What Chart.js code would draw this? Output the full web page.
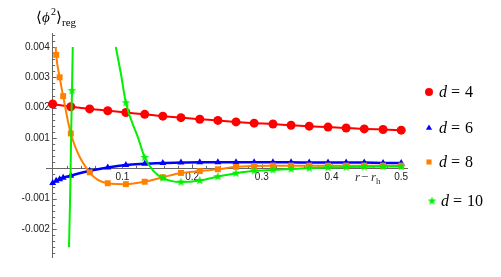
<!DOCTYPE html>
<html>
<head>
<meta charset="utf-8">
<script src="https://cdn.jsdelivr.net/npm/chart.js@4.4.1/dist/chart.umd.min.js"></script>
<style>
  html, body { margin: 0; padding: 0; background: #fff; }
  canvas { display: block; }
</style>
</head>
<body>
<canvas id="chart" width="501" height="277"></canvas>
<script>
// r - r_h sample grid and the extra samples near the horizon
const rGrid = [0, 0.026, 0.053, 0.079, 0.105, 0.132, 0.158, 0.184, 0.211, 0.237,
               0.263, 0.289, 0.316, 0.342, 0.368, 0.395, 0.421, 0.447, 0.474, 0.5];
const rNear = [0.005, 0.01, 0.015];

// d = 4
const d4R = rGrid;
const d4Phi = [0.00212, 0.00203, 0.00196, 0.0019, 0.00184, 0.00178, 0.00172, 0.00167, 0.00162, 0.00158,
               0.00153, 0.00149, 0.00146, 0.00142, 0.00139, 0.00136, 0.00133, 0.0013, 0.00128, 0.00126];

// d = 6
const d6R = [0].concat(rNear, rGrid.slice(1));
const d6Phi = [-0.00048, -0.00041, -0.00036, -0.00031, -0.00024, -0.00008, 0.00003, 0.00011, 0.00015, 0.00018,
               0.00019, 0.0002, 0.0002, 0.0002, 0.0002, 0.0002, 0.0002, 0.00019, 0.00019, 0.00019,
               0.00019, 0.00018, 0.00018];

// d = 8
const d8R = rNear.concat(rGrid.slice(1));
const d8Phi = [0.00374, 0.003, 0.00238, 0.00115, -0.00013, -0.00049, -0.00052, -0.00044, -0.00029, -0.00015,
               -0.00009, -0.00003, 0.00005, 0.00008, 0.00009, 0.00009, 0.00009, 0.00009, 0.00009, 0.00009,
               0.00009, 0.00009];
const d8CurveR = [0.0043].concat(d8R);
const d8CurvePhi = [0.004].concat(d8Phi);

// d = 10 (markers, and the two visible branches of the curve)
const d10R = [0.0277].concat(rGrid.slice(4));
const d10Phi = [0.00256, 0.00216, 0.00036, -0.00032, -0.00045, -0.0004, -0.00027, -0.00016, -0.00008, -0.00005,
                -0.00002, 0.00001, 0.00003, 0.00004, 0.00005, 0.00006, 0.00006];
const d10LeftR = [0.0234, 0.0254, 0.0266, 0.0277, 0.0288];
const d10LeftPhi = [-0.0026, -0.0005, 0.0013, 0.00256, 0.004];
const d10RightR = [0.0905, 0.098, 0.105, 0.1228, 0.132, 0.145, 0.158, 0.171, 0.184, 0.211, 0.237,
                   0.263, 0.289, 0.316, 0.342, 0.368, 0.395, 0.421, 0.447, 0.474, 0.5];
const d10RightPhi = [0.004, 0.0031, 0.00216, 0.00099, 0.00036, -0.0001, -0.00032, -0.00042, -0.00045, -0.0004, -0.00027,
                     -0.00016, -0.00008, -0.00005, -0.00002, 0.00001, 0.00003, 0.00004, 0.00005, 0.00006, 0.00006];

const xTickValues = [0.1, 0.2, 0.3, 0.4, 0.5];
const xTickLabels = ["0.1", "0.2", "0.3", "0.4", "0.5"];
const yTickValues = [-0.002, -0.001, 0.001, 0.002, 0.003, 0.004];
const yTickLabels = ["-0.002", "-0.001", "0.001", "0.002", "0.003", "0.004"];
const legendDims = ["4", "6", "8", "10"];

const RED = "#ff0000";
const BLUE = "#0000ff";
const ORANGE = "#ff8000";
const GREEN = "#00f000";
const AXIS = "#666666";
const TICK_TEXT = "#222222";
const SERIF = '"Liberation Serif", "DejaVu Serif", serif';

function pts(xs, ys) {
  return xs.map((x, i) => ({ x: x, y: ys[i] }));
}

// five pointed star marker
function makeStar(color, size) {
  const c = document.createElement("canvas");
  c.width = size;
  c.height = size;
  const g = c.getContext("2d");
  const cx = size / 2, cy = size / 2, ro = size / 2, ri = size / 4.6;
  g.beginPath();
  for (let i = 0; i < 10; i++) {
    const r = i % 2 === 0 ? ro : ri;
    const a = -Math.PI / 2 + i * Math.PI / 5;
    g.lineTo(cx + r * Math.cos(a), cy + r * Math.sin(a));
  }
  g.closePath();
  g.fillStyle = color;
  g.fill();
  return c;
}
const starMarker = makeStar(GREEN, 9);

function curve(xs, ys, color, width, order) {
  return {
    type: "line",
    data: pts(xs, ys),
    borderColor: color,
    borderWidth: width,
    pointRadius: 0,
    fill: false,
    cubicInterpolationMode: "monotone",
    order: order
  };
}

function markers(xs, ys, color, style, radius, order) {
  return {
    type: "scatter",
    data: pts(xs, ys),
    backgroundColor: color,
    borderColor: color,
    pointStyle: style,
    pointRadius: radius,
    pointBorderWidth: 0,
    showLine: false,
    order: order
  };
}

// Mathematica style small ticks on the axes through the origin
const axisTicks = {
  id: "axisTicks",
  beforeDatasetsDraw(chart) {
    const ctx = chart.ctx;
    const xs = chart.scales.x, ys = chart.scales.y;
    const x0 = xs.getPixelForValue(0), y0 = ys.getPixelForValue(0);
    ctx.save();
    ctx.strokeStyle = AXIS;
    ctx.lineWidth = 1;
    ctx.beginPath();
    for (let i = -14; i <= 22; i++) {
      if (i === 0) continue;
      const py = Math.round(ys.getPixelForValue(i * 0.0002)) + 0.5;
      const len = i % 5 === 0 ? 4 : 2.5;
      ctx.moveTo(x0, py);
      ctx.lineTo(x0 + len, py);
    }
    for (let i = 1; i <= 25; i++) {
      const px = Math.round(xs.getPixelForValue(i * 0.02)) + 0.5;
      const len = i % 5 === 0 ? 4 : 2.5;
      ctx.moveTo(px, y0);
      ctx.lineTo(px, y0 - len);
    }
    ctx.stroke();
    ctx.restore();
  }
};

// axis captions and the legend on the right
const annotations = {
  id: "annotations",
  afterDraw(chart) {
    const ctx = chart.ctx;
    ctx.save();
    ctx.fillStyle = "#000";
    ctx.textBaseline = "alphabetic";
    ctx.textAlign = "left";

    // <phi^2>_reg
    ctx.font = "15px " + SERIF;
    ctx.fillText("\u27e8", 36, 22);
    ctx.font = "italic 15px " + SERIF;
    ctx.fillText("\u03d5", 42, 22);
    ctx.font = "10px " + SERIF;
    ctx.fillText("2", 51, 15);
    ctx.font = "15px " + SERIF;
    ctx.fillText("\u27e9", 56, 22);
    ctx.font = "11px " + SERIF;
    ctx.fillText("reg", 62, 26);

    // r - r_h
    ctx.fillStyle = "#333";
    ctx.font = "italic 13px " + SERIF;
    ctx.fillText("r", 355, 181);
    ctx.font = "13px " + SERIF;
    ctx.fillText("\u2212", 361, 181);
    ctx.font = "italic 13px " + SERIF;
    ctx.fillText("r", 371, 181);
    ctx.font = "9px " + SERIF;
    ctx.fillText("h", 376, 184);

    // legend
    const rows = [
      { y: 92, style: "circle", color: RED, radius: 4 },
      { y: 128, style: "triangle", color: BLUE, radius: 3.6 },
      { y: 162, style: "rect", color: ORANGE, radius: 3.6 },
      { y: 201, style: starMarker, color: GREEN, radius: 4 }
    ];
    rows.forEach((row, i) => {
      const mx = i === 3 ? 432 : 429;
      ctx.fillStyle = row.color;
      Chart.helpers.drawPoint(ctx, { pointStyle: row.style, radius: row.radius, rotation: 0, borderWidth: 0 }, mx, row.y);
      ctx.fillStyle = "#000";
      const base = row.y + 5;
      const dx = i === 3 ? 441 : 439;
      ctx.font = "italic 16px " + SERIF;
      ctx.fillText("d", dx, base);
      ctx.font = "16px " + SERIF;
      ctx.fillText("=", dx + 12, base);
      ctx.fillText(legendDims[i], dx + 26, base);
    });
    ctx.restore();
  }
};

new Chart(document.getElementById("chart"), {
  type: "scatter",
  data: {
    datasets: [
      curve(d4R, d4Phi, RED, 2, 8),
      markers(d4R, d4Phi, RED, "circle", 4.5, 7),
      curve(d6R, d6Phi, BLUE, 2.5, 6),
      markers(d6R, d6Phi, BLUE, "triangle", 4, 5),
      curve(d8CurveR, d8CurvePhi, ORANGE, 2, 4),
      markers(d8R, d8Phi, ORANGE, "rect", 4.2, 3),
      curve(d10LeftR, d10LeftPhi, GREEN, 2, 2),
      curve(d10RightR, d10RightPhi, GREEN, 2, 2),
      markers(d10R, d10Phi, GREEN, starMarker, 4.5, 1)
    ]
  },
  options: {
    responsive: false,
    animation: false,
    layout: { padding: { left: 46, top: 33, right: 94, bottom: 20 } },
    plugins: {
      legend: { display: false },
      tooltip: { enabled: false }
    },
    scales: {
      x: {
        type: "linear",
        min: -0.0096,
        max: 0.5083,
        position: { y: 0 },
        grid: { display: false, drawTicks: false },
        border: { display: true, color: AXIS, width: 1 },
        ticks: {
          color: TICK_TEXT,
          font: { family: '"Liberation Sans", Arial, sans-serif', size: 10 },
          padding: 3,
          maxRotation: 0,
          autoSkip: false,
          callback: (v, i) => xTickLabels[i]
        },
        afterBuildTicks: (s) => { s.ticks = xTickValues.map(v => ({ value: v })); },
        afterFit: (s) => { s.height = 0; }
      },
      y: {
        type: "linear",
        min: -0.00292,
        max: 0.00446,
        position: { x: 0 },
        grid: { display: false, drawTicks: false },
        border: { display: true, color: AXIS, width: 1 },
        ticks: {
          color: TICK_TEXT,
          font: { family: '"Liberation Sans", Arial, sans-serif', size: 10 },
          padding: 3,
          autoSkip: false,
          // labels sit right on the axis when it is placed at x = 0, so leave a small gap
          callback: (v, i) => yTickLabels[i] + " "
        },
        afterBuildTicks: (s) => { s.ticks = yTickValues.map(v => ({ value: v })); },
        afterFit: (s) => { s.width = 0; }
      }
    }
  },
  plugins: [axisTicks, annotations]
});
</script>
</body>
</html>
